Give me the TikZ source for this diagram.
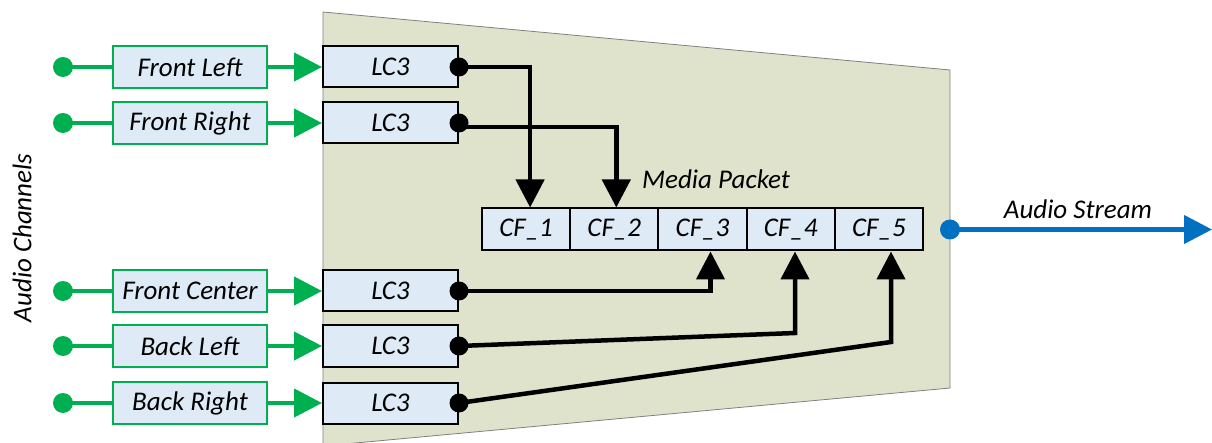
\documentclass[tikz,border=0pt]{standalone}
\usepackage{fontspec}
\setmainfont{Carlito}
\usetikzlibrary{arrows.meta}
\definecolor{chgreen}{RGB}{0,176,80}
\definecolor{cellblue}{RGB}{222,234,246}
\definecolor{panelolive}{RGB}{223,227,204}
\definecolor{streamblue}{RGB}{0,112,192}

\begin{document}
\begin{tikzpicture}[x=1pt,y=-1pt]
\tikzstyle{every node}+=[font=\itshape\fontsize{27}{31}\selectfont, inner sep=0pt]
\tikzstyle{chanbox}=[draw=chgreen, line width=2pt, fill=cellblue, minimum width=154pt, minimum height=42pt]
\tikzstyle{codecbox}=[draw=black, line width=2pt, fill=cellblue, minimum width=135pt, minimum height=41pt]
\tikzstyle{framebox}=[draw=black, line width=2pt, fill=cellblue, minimum width=88.2pt, minimum height=42pt]
\tikzstyle{greenwire}=[chgreen, line width=4.5pt]
\tikzstyle{blackwire}=[black, line width=4.5pt]
\tikzstyle{bigtip}=[-{Triangle[length=28pt,width=28pt]}]
\useasboundingbox (0,0) rectangle (1212,443);
\draw[gray, line width=0.8pt, fill=panelolive] (323,12) -- (950,70) -- (950,388) -- (323,446) -- cycle;

\foreach \y/\lab/\n in {67/Front Left/1, 123/Front Right/2, 291/Front Center/3, 346/Back Left/4, 403/Back Right/5} {
  \coordinate (src\n) at (63,\y);
  \node[chanbox] (chan\n) at (190,\y) {\lab};
  \node[codecbox] (lc\n) at (390.5,\y) {LC3};
  \draw[greenwire] (src\n) -- (chan\n.west);
  \fill[chgreen] (src\n) circle (10pt);
  \draw[greenwire, bigtip] (chan\n.east) -- (lc\n.west);
}

\foreach \i in {1,...,5}
  \node[framebox] (cf\i) at (482+88.2*\i-44.1,229.5) {CF\_\i};
\node (mp) at (716,179) {Media Packet};

\coordinate (bend4) at (795,333);
\coordinate (bend5) at (891,342);
\draw[blackwire, bigtip] (lc1.east) -| ([xshift=4pt]cf1.north);
\draw[blackwire, bigtip] ([yshift=-4pt]lc2.east) -| ([xshift=2pt]cf2.north);
\draw[blackwire, bigtip] (lc3.east) -| ([xshift=8pt]cf3.south);
\draw[blackwire, bigtip] (lc4.east) -- (bend4) -- (bend4 |- cf4.south);
\draw[blackwire, bigtip] (lc5.east) -- (bend5) -- (bend5 |- cf5.south);
\foreach \n in {1,...,5}
  \fill (lc\n.east) circle (9.5pt);

\coordinate (out) at (950,229.5);
\coordinate (streamend) at (1212,229.5);
\draw[streamblue, line width=4.5pt, bigtip] (out) -- (streamend);
\fill[streamblue] (out) circle (10pt);
\node (as) at (1078,209) {Audio Stream};

\node[rotate=90] (ac) at (22,238) {Audio Channels};
\end{tikzpicture}
\end{document}
